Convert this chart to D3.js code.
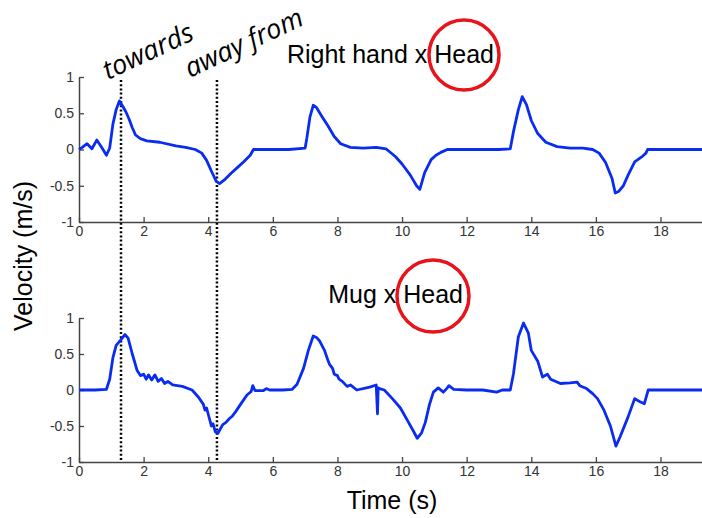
<!DOCTYPE html>
<html>
<head>
<meta charset="utf-8">
<script src="https://cdn.jsdelivr.net/npm/d3@7"></script>
<style>
  html, body { margin: 0; padding: 0; background: #fff; }
  svg { display: block; }
</style>
</head>
<body>
<div id="chart"></div>
<script>
// ---- data ----
const xTicks = [0, 2, 4, 6, 8, 10, 12, 14, 16, 18];
const yTicks = [-1, -0.5, 0, 0.5, 1];
const yTickLabels = ["-1", "-0.5", "0", "0.5", "1"];

const handTime = [0, 0.1, 0.25, 0.4, 0.55, 0.7, 0.85, 0.95, 1.05, 1.15, 1.25, 1.35, 1.45, 1.55, 1.65, 1.75, 1.9, 2.1, 2.5, 3.0, 3.3, 3.6, 3.8, 3.95, 4.1, 4.25, 4.35, 4.5, 4.7, 4.9, 5.1, 5.3, 5.4, 5.6, 6.0, 6.5, 7.0, 7.05, 7.15, 7.25, 7.35, 7.5, 7.7, 7.9, 8.1, 8.4, 8.8, 9.2, 9.5, 9.8, 10.0, 10.25, 10.45, 10.55, 10.7, 10.9, 11.05, 11.2, 11.4, 12, 12.5, 13.0, 13.35, 13.45, 13.6, 13.72, 13.85, 14.0, 14.2, 14.45, 14.8, 15.2, 15.6, 15.9, 16.1, 16.3, 16.5, 16.6, 16.7, 16.85, 17.0, 17.2, 17.45, 17.55, 17.6, 18, 18.5, 19, 19.3];
const handVel = [0, 0.03, 0.08, 0.01, 0.13, 0.03, -0.08, 0.02, 0.35, 0.55, 0.67, 0.6, 0.52, 0.42, 0.3, 0.2, 0.15, 0.12, 0.1, 0.05, 0.03, 0.0, -0.05, -0.15, -0.3, -0.44, -0.47, -0.42, -0.33, -0.25, -0.17, -0.08, 0.0, 0.0, 0.0, 0.0, 0.02, 0.15, 0.45, 0.61, 0.58, 0.47, 0.33, 0.18, 0.08, 0.03, 0.02, 0.03, 0.01, -0.1, -0.2, -0.35, -0.5, -0.55, -0.32, -0.14, -0.08, -0.04, 0.0, 0.0, 0.0, 0.0, 0.01, 0.25, 0.55, 0.73, 0.62, 0.4, 0.22, 0.1, 0.04, 0.02, 0.02, 0.0, -0.05, -0.18, -0.4, -0.6, -0.58, -0.5, -0.35, -0.17, -0.09, -0.05, 0.0, 0.0, 0.0, 0.0, 0.0];

const mugTime = [0, 0.5, 0.85, 0.95, 1.05, 1.15, 1.3, 1.42, 1.52, 1.65, 1.8, 1.9, 2.0, 2.08, 2.15, 2.25, 2.35, 2.45, 2.55, 2.65, 2.75, 2.9, 3.2, 3.5, 3.7, 3.85, 3.9, 3.95, 4.05, 4.1, 4.15, 4.22, 4.3, 4.45, 4.55, 4.65, 4.75, 4.85, 5.0, 5.2, 5.33, 5.38, 5.45, 5.7, 5.8, 5.9, 6.3, 6.6, 6.75, 6.95, 7.1, 7.25, 7.35, 7.45, 7.6, 7.7, 7.75, 7.85, 7.9, 8.0, 8.05, 8.15, 8.3, 8.4, 8.6, 9.0, 9.2, 9.24, 9.26, 9.3, 9.45, 9.7, 9.95, 10.2, 10.35, 10.47, 10.6, 10.72, 10.85, 10.97, 11.12, 11.28, 11.4, 11.45, 11.6, 12.0, 12.5, 12.93, 13.1, 13.35, 13.45, 13.6, 13.76, 13.91, 14.0, 14.2, 14.35, 14.5, 14.6, 14.9, 15.2, 15.42, 15.5, 15.71, 15.9, 16.05, 16.25, 16.45, 16.62, 16.75, 17.0, 17.2, 17.35, 17.5, 17.62, 18, 18.5, 19, 19.3];
const mugVel = [0, 0, 0.01, 0.15, 0.45, 0.62, 0.7, 0.77, 0.72, 0.5, 0.27, 0.2, 0.22, 0.15, 0.21, 0.14, 0.21, 0.12, 0.16, 0.09, 0.12, 0.07, 0.05, 0.0, -0.1, -0.2, -0.28, -0.25, -0.42, -0.5, -0.47, -0.58, -0.6, -0.48, -0.45, -0.4, -0.36, -0.3, -0.2, -0.07, -0.02, 0.06, -0.01, -0.01, 0.02, 0.0, 0.0, 0.01, 0.08, 0.3, 0.55, 0.75, 0.73, 0.68, 0.55, 0.42, 0.36, 0.3, 0.22, 0.2, 0.15, 0.12, 0.05, 0.07, 0.0, 0.04, 0.07, -0.33, 0.03, 0.02, 0.0, -0.12, -0.25, -0.45, -0.57, -0.67, -0.6, -0.45, -0.2, -0.03, 0.03, -0.03, 0.03, 0.06, 0.01, 0.0, 0.0, -0.03, 0.0, 0.0, 0.23, 0.74, 0.93, 0.79, 0.55, 0.4, 0.18, 0.22, 0.15, 0.09, 0.1, 0.11, 0.06, 0.02, -0.05, -0.12, -0.28, -0.5, -0.78, -0.65, -0.37, -0.12, -0.16, -0.19, 0.0, 0.0, 0.0, 0.0, 0.0];

const markerTimes = [1.3, 4.27];
const markerLabels = ["towards", "away from"];
const panelTitles = ["Right hand x ", "Mug x "];
const circledWord = "Head";

// ---- layout ----
const W = 702, H = 518;
const svg = d3.select("#chart").append("svg").attr("width", W).attr("height", H);

const x = d3.scaleLinear().domain([0, 19.3]).range([79, 702.5]);
const yTop = d3.scaleLinear().domain([-1, 1]).range([222, 77]);
const yBot = d3.scaleLinear().domain([-1, 1]).range([462, 318]);

const axisColor = "#444";
const tickFont = "'Liberation Sans', Arial, sans-serif";

function drawAxes(y) {
  const gx = svg.append("g").attr("transform", `translate(0,${y.range()[0]})`)
    .call(d3.axisBottom(x).tickValues(xTicks).tickSizeInner(-5).tickSizeOuter(0).tickPadding(4).tickFormat(d3.format("d")));
  const gy = svg.append("g").attr("transform", `translate(${x.range()[0]},0)`)
    .call(d3.axisLeft(y).tickValues(yTicks).tickSizeInner(-5).tickSizeOuter(0).tickPadding(5).tickFormat((d, i) => yTickLabels[i]));
  [gx, gy].forEach(g => {
    g.select(".domain").attr("stroke", axisColor).attr("stroke-width", 1.5);
    g.selectAll(".tick line").attr("stroke", axisColor).attr("stroke-width", 1.3);
    g.selectAll(".tick text").attr("fill", "#333").style("font-family", tickFont).style("font-size", "14px");
  });
}
drawAxes(yTop);
drawAxes(yBot);

// ---- dotted marker lines ----
svg.selectAll(".marker").data(markerTimes).enter().append("line")
  .attr("x1", d => x(d)).attr("x2", d => x(d))
  .attr("y1", 80).attr("y2", yBot.range()[0])
  .attr("stroke", "#000").attr("stroke-width", 2.5).attr("stroke-dasharray", "2,2.2");

// ---- curves ----
const lineColor = "#0a2cf2";
function drawCurve(times, vals, y) {
  const pts = times.map((t, i) => [t, vals[i]]);
  svg.append("path").datum(pts)
    .attr("fill", "none").attr("stroke", lineColor).attr("stroke-width", 2.8)
    .attr("stroke-linejoin", "round")
    .attr("d", d3.line().x(d => x(d[0])).y(d => y(d[1])));
}
drawCurve(handTime, handVel, yTop);
drawCurve(mugTime, mugVel, yBot);

// ---- titles with circled word ----
const titleFont = "'Liberation Sans', Arial, sans-serif";
const titles = [
  { text: panelTitles[0], endX: 494, baseY: 63, cx: 464, cy: 55, r: 35 },
  { text: panelTitles[1], endX: 463, baseY: 303, cx: 433, cy: 296, r: 36 }
];
titles.forEach(t => {
  svg.append("text").attr("x", t.endX).attr("y", t.baseY)
    .attr("text-anchor", "end").style("font-family", titleFont).style("font-size", "25px").attr("fill", "#000")
    .text(t.text + circledWord);
  svg.append("circle").attr("cx", t.cx).attr("cy", t.cy).attr("r", t.r)
    .attr("fill", "none").attr("stroke", "#e8141c").attr("stroke-width", 3.5);
});

// ---- slanted annotations ----
const annPos = [[108, 80], [190, 78]];
markerLabels.forEach((lab, i) => {
  svg.append("text")
    .attr("transform", `translate(${annPos[i][0]},${annPos[i][1]}) rotate(-25)`)
    .style("font-family", "'Open Sans', 'Noto Sans', sans-serif").style("font-style", "italic")
    .style("font-size", "27px").attr("fill", "#000").text(lab);
});

// ---- axis titles ----
svg.append("text").attr("transform", "translate(32,256) rotate(-90)")
  .attr("text-anchor", "middle").style("font-family", titleFont).style("font-size", "25px").attr("fill", "#000")
  .text("Velocity (m/s)");
svg.append("text").attr("x", 392).attr("y", 509)
  .attr("text-anchor", "middle").style("font-family", titleFont).style("font-size", "25px").attr("fill", "#000")
  .text("Time (s)");
</script>
</body>
</html>
